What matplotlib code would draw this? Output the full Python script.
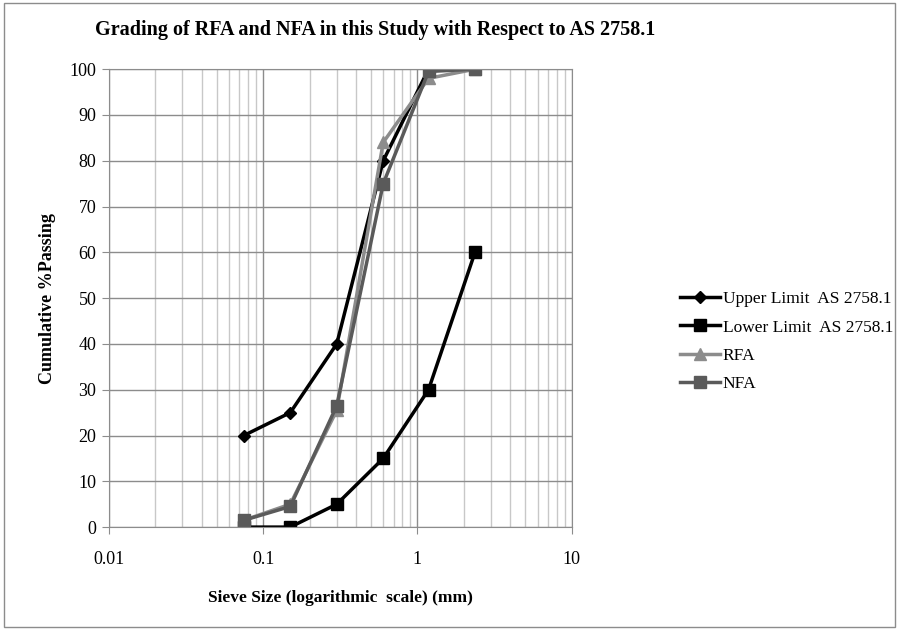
import matplotlib
matplotlib.use("Agg")
import matplotlib.pyplot as plt
from matplotlib.ticker import LogLocator, NullFormatter
from matplotlib.patches import Rectangle

plt.rcParams['font.family'] = ['Liberation Serif', 'DejaVu Serif']

# sieve sizes (mm) and cumulative % passing
sieve = [0.075, 0.15, 0.3, 0.6, 1.18, 2.36]
upper = [20, 25, 40, 80, 100, 100]
lower = [0, 0, 5, 15, 30, 60]
rfa = [1.5, 5, 25.5, 84, 98, 100]
nfa = [1.5, 4.5, 26.5, 75, 99.5, 100]

fig = plt.figure(figsize=(8.99, 6.29), dpi=100)
ax = fig.add_axes([0.121, 0.162, 0.515, 0.728])

ax.plot(sieve, upper, color='black', lw=2.5, marker='D', ms=6, label='Upper Limit  AS 2758.1')
ax.plot(sieve, lower, color='black', lw=2.5, marker='s', ms=9, label='Lower Limit  AS 2758.1')
ax.plot(sieve, rfa, color='#8c8c8c', lw=2.5, marker='^', ms=8, label='RFA')
ax.plot(sieve, nfa, color='#5a5a5a', lw=2.5, marker='s', ms=8, label='NFA')

ax.set_xscale('log')
ax.set_xlim(0.01, 10)
ax.set_ylim(0, 100)
ax.set_yticks(range(0, 101, 10))
ax.set_xticks([0.01, 0.1, 1, 10])
ax.set_xticklabels(['0.01', '0.1', '1', '10'])
ax.xaxis.set_minor_locator(LogLocator(base=10, subs=range(2, 10)))
ax.xaxis.set_minor_formatter(NullFormatter())

ax.grid(True, which='major', color='#8c8c8c', lw=1)
ax.grid(True, which='minor', axis='x', color='#c8c8c8', lw=1)
ax.set_axisbelow(True)
for s in ax.spines.values():
    s.set_color('#8c8c8c')
ax.tick_params(axis='both', which='major', length=5, color='#8c8c8c', labelsize=13, pad=4)
ax.tick_params(axis='x', which='major', pad=12)
ax.tick_params(axis='x', which='minor', length=0)

ax.set_xlabel('Sieve Size (logarithmic  scale) (mm)', fontsize=12.5, fontweight='bold', labelpad=16)
ax.set_ylabel('Cumulative %Passing', fontsize=13, fontweight='bold', labelpad=10)
fig.text(0.417, 0.952, 'Grading of RFA and NFA in this Study with Respect to AS 2758.1',
         ha='center', va='center', fontsize=14.5, fontweight='bold')

ax.legend(loc='center left', bbox_to_anchor=(1.2, 0.405), frameon=False, fontsize=12.5,
          handlelength=2.3, handletextpad=0.15, labelspacing=0.7)

fig.patches.append(Rectangle((0.004, 0.003), 0.992, 0.992, transform=fig.transFigure,
                             fill=False, edgecolor='#8c8c8c', lw=1))

fig.savefig('out.png', dpi=100)
